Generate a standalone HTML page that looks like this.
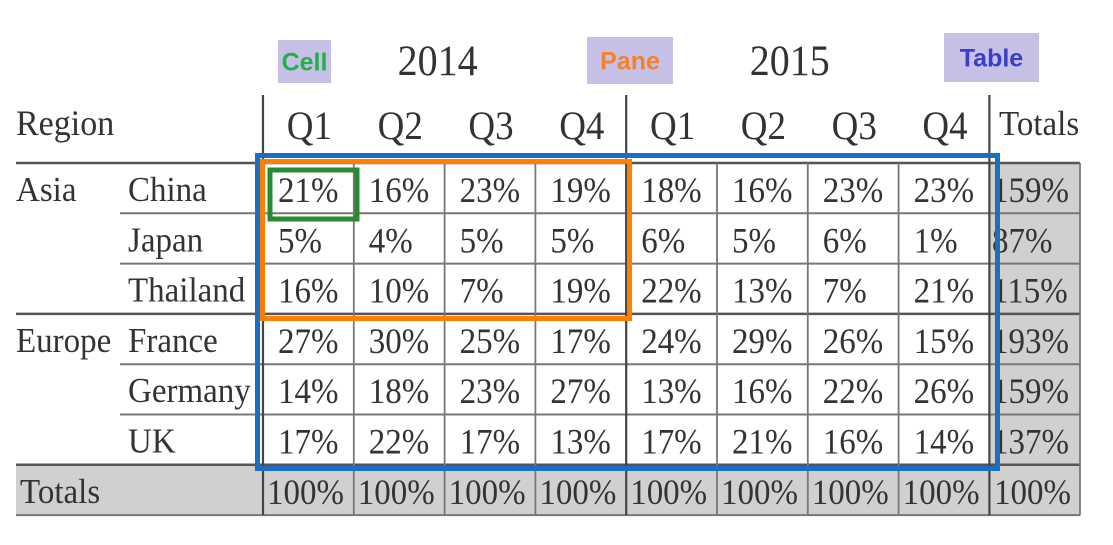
<!DOCTYPE html>
<html><head><meta charset="utf-8"><style>
html,body{margin:0;padding:0;background:#fff;}
svg{display:block;}
text{font-family:"Liberation Serif",serif;fill:#333;}
.lbl{font-family:"Liberation Sans","DejaVu Sans",sans-serif;font-weight:bold;font-size:25px;}
</style></head><body>
<svg id="chart" width="1113" height="545" viewBox="0 0 1113 545" xmlns="http://www.w3.org/2000/svg">
<g id="bg"></g>
<g id="grid"></g>
<g id="txt"></g>
<g id="hl"></g>
</svg>
<script>
const years = ["2014","2015"];
const quarters = ["Q1","Q2","Q3","Q4","Q1","Q2","Q3","Q4"];
const regions = ["Asia","Europe"];
const countries = ["China","Japan","Thailand","France","Germany","UK"];
const valChina = [21,16,23,19,18,16,23,23];
const valJapan = [5,4,5,5,6,5,6,1];
const valThailand = [16,10,7,19,22,13,7,21];
const valFrance = [27,30,25,17,24,29,26,15];
const valGermany = [14,18,23,27,13,16,22,26];
const valUK = [17,22,17,13,17,21,16,14];
const rowTotals = [159,87,115,193,159,137];
const colTotals = [100,100,100,100,100,100,100,100];
const grandTotal = 100;
const rows = [valChina,valJapan,valThailand,valFrance,valGermany,valUK];

const NS="http://www.w3.org/2000/svg";
const colX = c => 263 + c*90.8;
const rowY = r => 163 + r*50.3;
const cw = 90.8, rh = 50.3;
function mk(parent, tag, attrs, txt){
  const e=document.createElementNS(NS,tag);
  for(const k in attrs) e.setAttribute(k,attrs[k]);
  if(txt!==undefined) e.textContent=txt;
  document.getElementById(parent).appendChild(e);
  return e;
}
function tall(e, x, y, s){ e.setAttribute('transform','translate('+x+','+y+') scale(1,'+s+')'); e.setAttribute('x',0); e.setAttribute('y',0); }
let e;
e=mk("bg","rect",{x:990,y:rowY(0),width:90,height:rowY(6)-rowY(0),fill:"#d2d0cf"});


e=mk("bg","rect",{x:16,y:rowY(6),width:1064,height:rh,fill:"#d2d0cf"});


for(let r=0;r<=7;r++){
  const thick = (r===0||r===3||r===6);
  const x1 = thick?16:(r===7?16:120);
  e=mk("grid","line",{x1:x1,x2:1080,y1:rowY(r),y2:rowY(r),stroke:thick?"#555":"#777","stroke-width":thick?2.5:2});
  
  
}
for(let c=0;c<=9;c++){
  const x = c===9?1080:colX(c);
  const major = (c===0||c===4||c===8);
  e=mk("grid","line",{x1:x,x2:x,y1:major?95:rowY(0),y2:rowY(7),stroke:major?"#444":"#777","stroke-width":major?2.2:1.8});
  
  
}
years.forEach((y,i)=>{
  e=mk("txt","text",{"font-size":40,"text-anchor":"middle"},y);
  tall(e, colX(i*4)+2*cw-(i===0?7:18), 75, 1.08);
  
  
});
quarters.forEach((q,i)=>{
  e=mk("txt","text",{"font-size":37,"text-anchor":"middle"},q);
  tall(e, colX(i)+cw/2+1, 139, 1.1);
  
  
});
e=mk("txt","text",{"font-size":34},"Region");
tall(e,16,135,1.05);


e=mk("txt","text",{"font-size":33},"Totals");
tall(e,999,135,1.05);


regions.forEach((g,i)=>{
  e=mk("txt","text",{"font-size":33},g);
  tall(e,16,rowY(i*3)+38,1.05);
  
  
});
countries.forEach((c,i)=>{
  e=mk("txt","text",{"font-size":33},c);
  tall(e,128,rowY(i)+38,1.05);
  
  
});
rows.forEach((vals,r)=>{
  vals.forEach((v,c)=>{
    e=mk("txt","text",{"font-size":33},v+"%");
    tall(e,colX(c)+15,rowY(r)+39,1.08);
    
    
  });
  e=mk("txt","text",{"font-size":33},rowTotals[r]+"%");
  tall(e,992,rowY(r)+39,1.08);
  
  
});
e=mk("txt","text",{"font-size":33},"Totals");
tall(e,20,rowY(6)+38,1.05);


colTotals.forEach((v,c)=>{
  e=mk("txt","text",{"font-size":33},v+"%");
  tall(e,colX(c)+4,rowY(6)+39,1.08);
  
  
});
e=mk("txt","text",{"font-size":33},grandTotal+"%");
tall(e,994,rowY(6)+39,1.08);


e=mk("hl","rect",{x:257.5,y:155.5,width:740,height:313,fill:"none",stroke:"#1a6fc2","stroke-width":5});


e=mk("hl","rect",{x:262.5,y:161.5,width:367,height:157,fill:"none",stroke:"#ff8000","stroke-width":5});


e=mk("hl","rect",{x:270,y:170,width:87,height:49,fill:"none",stroke:"#2a8a2f","stroke-width":5});


const tags=[["Cell",278,40,53,43,"#22b04a"],["Pane",587,37,86,47,"#f7802a"],["Table",944,33,95,49,"#3a3fc8"]];
tags.forEach(t=>{
  e=mk("hl","rect",{x:t[1],y:t[2],width:t[3],height:t[4],fill:"#c6c0e6"});
  
  
  e=mk("hl","text",{x:t[1]+t[3]/2,y:t[2]+t[4]/2+9,"text-anchor":"middle",class:"lbl",style:"fill:"+t[5]},t[0]);
  
  
});
</script>
</body></html>
